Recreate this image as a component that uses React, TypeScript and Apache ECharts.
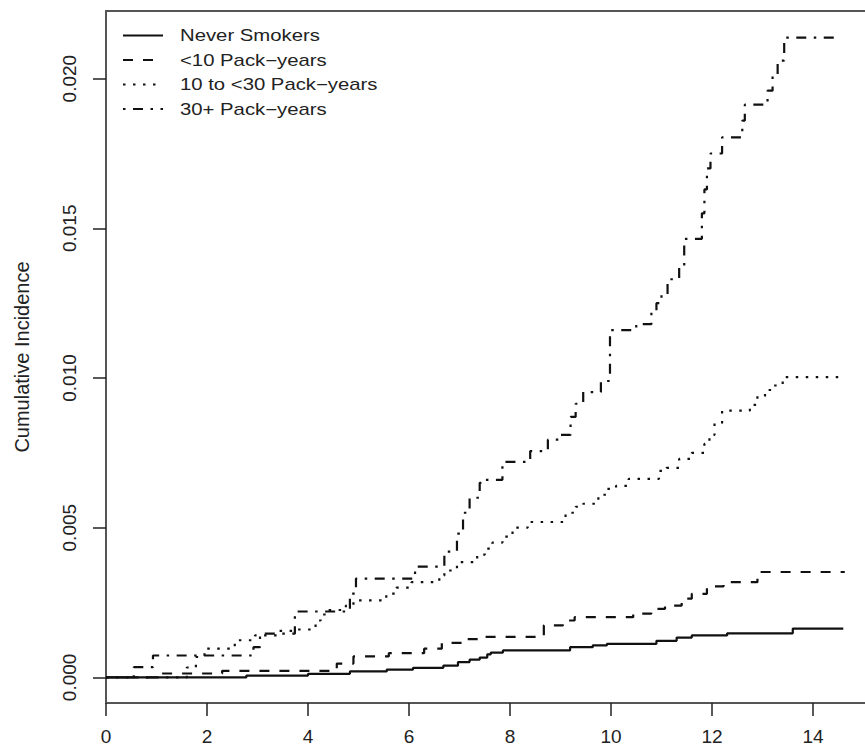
import React, { useEffect, useRef } from "react";
import * as echarts from "echarts";

// Follow-up time (years) at which each cumulative incidence step occurs
const neverT = [0, 2.78, 4.0, 4.83, 5.56, 6.08, 6.68, 6.97, 7.2, 7.4, 7.55, 7.62, 7.86, 9.19, 9.64, 9.92, 10.9, 11.3, 11.6, 12.3, 13.6, 14.6];
const neverF = [0, 0.00006, 0.00012, 0.0002, 0.00026, 0.00032, 0.00039, 0.00051, 0.00059, 0.00066, 0.00077, 0.00083, 0.0009, 0.00101, 0.00107, 0.00112, 0.00122, 0.00133, 0.0014, 0.00147, 0.00163, 0.00163];

const lt10T = [0, 1.1, 2.3, 4.57, 4.9, 5.6, 6.3, 6.65, 7.05, 7.4, 8.67, 9.05, 9.28, 10.44, 10.8, 11.07, 11.4, 11.6, 11.9, 12.23, 12.9, 14.63];
const lt10F = [0, 0.00013, 0.00022, 0.00046, 0.0007, 0.00081, 0.00096, 0.00115, 0.00128, 0.00135, 0.00174, 0.0019, 0.00201, 0.00213, 0.00229, 0.0024, 0.00263, 0.00279, 0.00304, 0.00318, 0.00352, 0.00352];

const mid30T = [0, 1.6, 1.78, 1.95, 2.55, 2.95, 3.4, 3.75, 4.15, 4.25, 4.35, 4.75, 4.9, 5.55, 5.75, 6.05, 6.6, 6.7, 6.95, 7.35, 7.5, 7.65, 7.85, 8.05, 8.35, 9.1, 9.3, 9.45, 9.75, 9.9, 10.1, 10.35, 10.95, 11.1, 11.35, 11.6, 11.85, 11.95, 12.05, 12.2, 12.75, 12.9, 13.05, 13.2, 13.4, 14.5];
const mid30F = [0, 0.00033, 0.00068, 0.00096, 0.00124, 0.0014, 0.00155, 0.0016, 0.0019, 0.0021, 0.00225, 0.0024, 0.00257, 0.0028, 0.003, 0.00318, 0.0034, 0.00357, 0.00385, 0.0041, 0.0043, 0.0045, 0.0047, 0.005, 0.00519, 0.0055, 0.0057, 0.0058, 0.0061, 0.0063, 0.0064, 0.00663, 0.0069, 0.007, 0.0073, 0.0075, 0.0078, 0.0081, 0.0085, 0.00891, 0.0091, 0.0094, 0.0096, 0.00975, 0.01003, 0.01003];

const hi30T = [0, 0.55, 0.93, 2.92, 3.05, 3.74, 4.83, 4.95, 6.12, 6.7, 6.95, 7.07, 7.2, 7.4, 7.5, 7.85, 8.4, 8.75, 9.0, 9.2, 9.3, 9.45, 9.8, 9.98, 10.5, 10.8, 10.9, 11.0, 11.12, 11.35, 11.45, 11.8, 11.85, 11.9, 11.97, 12.2, 12.6, 12.65, 13.1, 13.2, 13.3, 13.43, 14.55];
const hi30F = [0, 0.00034, 0.00073, 0.00101, 0.00146, 0.0022, 0.0028, 0.0033, 0.0037, 0.0042, 0.0048, 0.0055, 0.006, 0.0065, 0.0066, 0.0072, 0.00756, 0.00794, 0.0081, 0.0087, 0.00914, 0.00953, 0.0099, 0.0116, 0.0118, 0.0122, 0.0125, 0.0128, 0.0133, 0.0137, 0.01465, 0.0155, 0.0163, 0.017, 0.0175, 0.01804, 0.0186, 0.01913, 0.0196, 0.0201, 0.0206, 0.02137, 0.02137];

const seriesNames = ["Never Smokers", "<10 Pack\u2212years", "10 to <30 Pack\u2212years", "30+ Pack\u2212years"];
const xTicks = [0, 2, 4, 6, 8, 10, 12, 14];
const yTicks = [0, 0.005, 0.01, 0.015, 0.02];

const FONT = "'Liberation Sans', Arial, Helvetica, sans-serif";
const dashes: (string | number[])[] = ["solid", [10, 10], [2.5, 7.5], [2.5, 7.5, 10, 7.5]];

function pairs(t: number[], f: number[]) {
  return t.map((v, i) => [v, f[i]]);
}

export default function App() {
  const ref = useRef<HTMLDivElement>(null);
  useEffect(() => {
    if (!ref.current) return;
    const chart = echarts.init(ref.current, null, { renderer: "svg" });
    const datasets = [pairs(neverT, neverF), pairs(lt10T, lt10F), pairs(mid30T, mid30F), pairs(hi30T, hi30F)];
    const legendRows = [35.5, 60, 84.5, 109];
    const graphics: any[] = [];
    seriesNames.forEach((name, i) => {
      graphics.push({
        type: "line",
        shape: { x1: 123, y1: legendRows[i], x2: 163, y2: legendRows[i] },
        style: { stroke: "#111", lineWidth: 2.2, lineDash: dashes[i] === "solid" ? null : dashes[i] },
      });
      graphics.push({
        type: "text",
        x: 180,
        y: legendRows[i],
        scaleX: 1.27,
        style: { text: name, fontSize: 16, fontFamily: FONT, fill: "#222", verticalAlign: "middle", align: "left" },
      });
    });
    chart.setOption({
      animation: false,
      backgroundColor: "#fff",
      grid: { left: 106, right: 0, top: 11, bottom: 45, containLabel: false },
      xAxis: [
        {
          type: "value",
          min: 0,
          max: 15.03,
          position: "bottom",
          axisLine: { show: true, onZero: false, lineStyle: { color: "#555", width: 2 } },
          axisTick: { show: true, inside: false, length: 13, customValues: xTicks, lineStyle: { color: "#222", width: 1.5 } },
          axisLabel: { show: true, margin: 24, customValues: xTicks, formatter: (v: number) => String(v), fontSize: 19, fontFamily: FONT, color: "#222" },
          splitLine: { show: false },
        },
        {
          type: "value",
          min: 0,
          max: 15.03,
          position: "top",
          axisLine: { show: true, onZero: false, lineStyle: { color: "#555", width: 2 } },
          axisTick: { show: false },
          axisLabel: { show: false },
          splitLine: { show: false },
        },
      ],
      yAxis: {
        type: "value",
        min: -0.000856,
        max: 0.02226,
        name: "Cumulative Incidence",
        nameLocation: "middle",
        nameRotate: 90,
        nameGap: 74,
        nameTextStyle: { fontSize: 20, fontFamily: FONT, color: "#222" },
        axisLine: { show: true, onZero: false, lineStyle: { color: "#555", width: 2 } },
        axisTick: { show: true, inside: false, length: 13, customValues: yTicks, lineStyle: { color: "#222", width: 1.5 } },
        axisLabel: {
          show: true,
          rotate: 90,
          margin: 27,
          align: "center",
          verticalAlign: "bottom",
          customValues: yTicks,
          formatter: (v: number) => v.toFixed(3),
          fontSize: 19,
          fontFamily: FONT,
          color: "#222",
        },
        splitLine: { show: false },
      },
      graphic: graphics,
      series: datasets.map((d, i) => ({
        name: seriesNames[i],
        type: "line",
        step: "end",
        data: d,
        xAxisIndex: 0,
        showSymbol: false,
        symbol: "none",
        lineStyle: { color: "#111", width: 2.2, type: dashes[i] },
        z: 3,
      })),
    });
    return () => chart.dispose();
  }, []);
  return <div ref={ref} style={{ position: "absolute", left: 0, top: 0, width: 865, height: 748, background: "#fff" }} />;
}
